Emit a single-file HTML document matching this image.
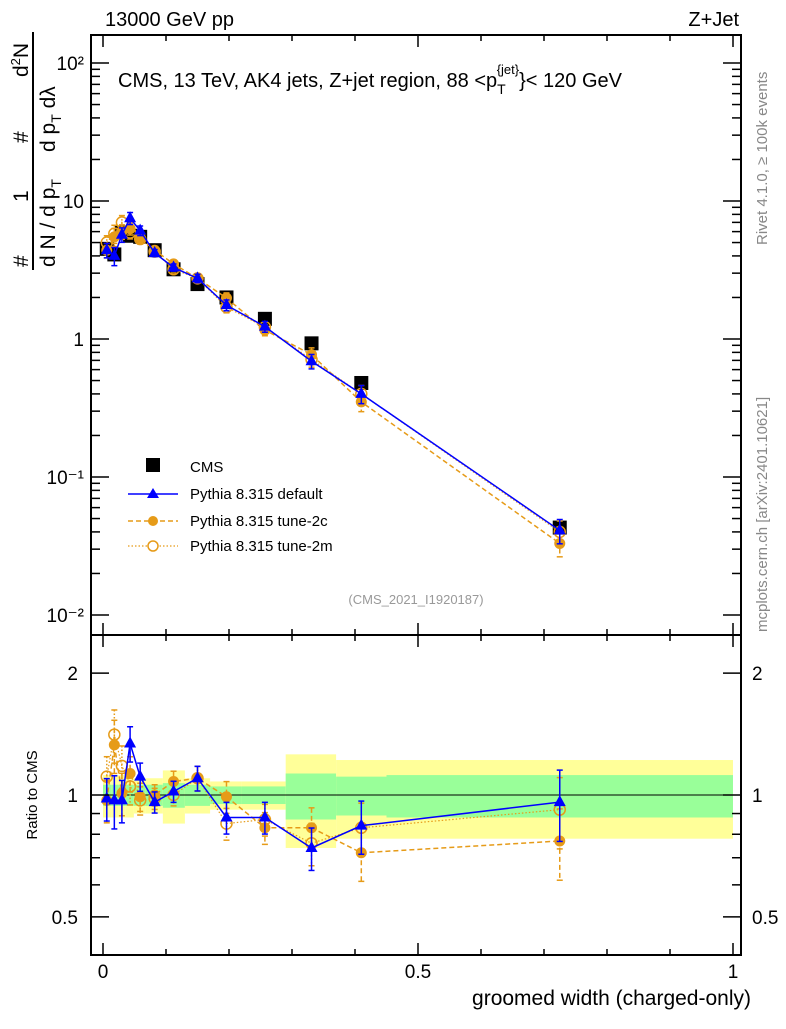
<!DOCTYPE html>
<html><head><meta charset="utf-8"><style>
body{margin:0;background:#fff;}
svg text{font-family:"Liberation Sans",sans-serif;}
</style></head><body>
<svg id="c" width="786" height="1024" xmlns="http://www.w3.org/2000/svg">
<g id="bands"></g>
<g id="marks"></g>
<g id="axes"></g>
<text x="105" y="26" font-size="20">13000 GeV pp</text>
<text x="739" y="26" font-size="20" text-anchor="end">Z+Jet</text>
<text x="118" y="87" font-size="20">CMS, 13 TeV, AK4 jets, Z+jet region, 88 &lt;p<tspan font-size="14" dy="7">T</tspan><tspan font-size="13" dy="-20" dx="-9">{jet}</tspan><tspan dy="13">}&lt; 120 GeV</tspan></text>
<text x="416" y="604" font-size="13" fill="#999" text-anchor="middle">(CMS_2021_I1920187)</text>
<text transform="translate(767,245) rotate(-90)" font-size="15" fill="#888">Rivet 4.1.0, ≥ 100k events</text>
<text transform="translate(767,632) rotate(-90)" font-size="15" fill="#888">mcplots.cern.ch [arXiv:2401.10621]</text>
<g transform="translate(0,270) rotate(-90)">
 <text x="3" y="28" font-size="21">#</text>
 <text x="68" y="28" font-size="21">1</text>
 <text x="127" y="28" font-size="21">#</text>
 <text x="193" y="28" font-size="21">d<tspan font-size="13" dy="-8">2</tspan><tspan dy="8">N</tspan></text>
 <line x1="0" y1="33" x2="238" y2="33" stroke="#000" stroke-width="2"/>
 <text x="3" y="55" font-size="21">d N / d p<tspan font-size="14" dy="6">T</tspan></text>
 <text x="118" y="55" font-size="21">d p<tspan font-size="14" dy="6">T</tspan><tspan dy="-6"> dλ</tspan></text>
</g>
<text transform="translate(37,795) rotate(-90)" font-size="15" text-anchor="middle">Ratio to CMS</text>
<text x="751" y="1005" font-size="21" text-anchor="end">groomed width (charged-only)</text>
<g id="legend">
 <rect x="146" y="458" width="14" height="14" fill="#000"/>
 <text x="190" y="472" font-size="15">CMS</text>
 <line x1="128" y1="494" x2="178" y2="494" stroke="#00f" stroke-width="1.5"/>
 <polygon points="153,488 147,498 159,498" fill="#00f"/>
 <text x="190" y="499" font-size="15">Pythia 8.315 default</text>
 <line x1="128" y1="521" x2="178" y2="521" stroke="#e69b18" stroke-width="1.5" stroke-dasharray="5,3"/>
 <circle cx="153" cy="521" r="5" fill="#e69b18"/>
 <text x="190" y="526" font-size="15">Pythia 8.315 tune-2c</text>
 <line x1="128" y1="546" x2="178" y2="546" stroke="#e69b18" stroke-width="1.2" stroke-dasharray="1.5,2"/>
 <circle cx="153" cy="546" r="5" fill="#fff" stroke="#e69b18" stroke-width="1.5"/>
 <text x="190" y="551" font-size="15">Pythia 8.315 tune-2m</text>
</g>
</svg>
<script>
const binEdges=[0,0.013,0.024,0.036,0.049,0.068,0.095,0.13,0.17,0.22,0.29,0.37,0.45,1.0];
const xCenters=[0.006,0.018,0.030,0.043,0.059,0.082,0.112,0.15,0.196,0.257,0.331,0.41,0.725];
const cmsVals=[4.5,4.1,5.9,5.6,5.5,4.4,3.2,2.5,2.0,1.4,0.93,0.48,0.043];
const defVals=[4.4,4.0,5.7,7.5,6.1,4.2,3.3,2.75,1.76,1.23,0.69,0.40,0.041];
const c2Vals=[4.4,5.5,6.0,6.3,5.4,4.4,3.5,2.75,1.98,1.16,0.77,0.35,0.033];
const m2Vals=[5.0,5.8,7.0,5.9,5.3,4.3,3.2,2.75,1.7,1.22,0.71,0.40,0.040];
const defRatio=[0.98,0.97,0.97,1.34,1.11,0.96,1.02,1.10,0.88,0.88,0.74,0.84,0.96];
const c2Ratio=[0.97,1.33,1.01,1.13,0.99,1.0,1.08,1.10,0.99,0.83,0.83,0.72,0.77];
const m2Ratio=[1.11,1.41,1.18,1.05,0.97,0.98,1.0,1.10,0.85,0.87,0.76,0.83,0.92];
const relErr=[0.12,0.15,0.12,0.1,0.08,0.06,0.06,0.07,0.09,0.09,0.12,0.15,0.2];
const statBand=[0.06,0.06,0.06,0.06,0.06,0.06,0.07,0.06,0.05,0.05,0.13,0.11,0.12];
const totBand=[0.12,0.12,0.12,0.12,0.10,0.10,0.15,0.10,0.08,0.08,0.26,0.22,0.22];
const xTicks=[0,0.5,1];
const xTickLabels=["0","0.5","1"];
const yDecades=[-2,-1,0,1,2];
const yDecadeLabels=["10⁻²","10⁻¹","1","10","10²"];
const rTicks=[0.5,1,2];
const rTickLabels=["0.5","1","2"];

const NS="http://www.w3.org/2000/svg";
const L=91,R=741,T=35,MB=635,RB=955;
const X=v=>103+v*630;
const Y=v=>339-Math.log10(v)*138;
const YR=v=>795-Math.log10(v)*405;
function el(p,t,a){const e=document.createElementNS(NS,t);for(const k in a)e.setAttribute(k,a[k]);p.appendChild(e);return e;}
const bands=document.getElementById('bands'),marks=document.getElementById('marks'),axes=document.getElementById('axes');
for(let i=0;i<xCenters.length;i++){
 const x1=X(binEdges[i]),x2=X(binEdges[i+1]);
 let r=el(bands,'rect',{x:x1,y:YR(1+totBand[i]),width:x2-x1,height:YR(1-totBand[i])-YR(1+totBand[i]),fill:'#ffff99'});
 
 
 r=el(bands,'rect',{x:x1,y:YR(1+statBand[i]),width:x2-x1,height:YR(1-statBand[i])-YR(1+statBand[i]),fill:'#99ff99'});
 
 
}
el(bands,'line',{x1:L,x2:R,y1:YR(1),y2:YR(1),stroke:'#000','stroke-width':1});
function series(vals,ratio,color,dash,kind,name){
 const g=el(marks,'g',{});
 
 
 [[vals,Y],[ratio,YR]].forEach(([arr,f])=>{
  el(g,'polyline',{points:arr.map((v,i)=>X(xCenters[i])+','+f(v)).join(' '),fill:'none',stroke:color,'stroke-width':kind=='m'?1.2:1.5,'stroke-dasharray':dash});
  arr.forEach((v,i)=>{const x=X(xCenters[i]),e=relErr[i];
   el(g,'line',{x1:x,x2:x,y1:f(v*(1+e)),y2:f(v*(1-e)),stroke:color,'stroke-width':1.5,'stroke-dasharray':dash});
   el(g,'line',{x1:x-3,x2:x+3,y1:f(v*(1+e)),y2:f(v*(1+e)),stroke:color,'stroke-width':1.5});
   el(g,'line',{x1:x-3,x2:x+3,y1:f(v*(1-e)),y2:f(v*(1-e)),stroke:color,'stroke-width':1.5});
   const y=f(v);let m;
   if(kind=='t')m=el(g,'polygon',{points:`${x},${y-7} ${x-6},${y+4} ${x+6},${y+4}`,fill:color});
   else if(kind=='c')m=el(g,'circle',{cx:x,cy:y,r:5.5,fill:color});
   else m=el(g,'circle',{cx:x,cy:y,r:5.5,fill:'none',stroke:color,'stroke-width':1.5});
   
   
  });
 });
}
cmsVals.forEach((v,i)=>{const r=el(marks,'rect',{x:X(xCenters[i])-7,y:Y(v)-7,width:14,height:14,fill:'#000'});
 
 });
series(m2Vals,m2Ratio,'#e69b18','1.5,2','m','tune-2m');
series(c2Vals,c2Ratio,'#e69b18','5,3','c','tune-2c');
series(defVals,defRatio,'#0000ff','','t','default');
el(axes,'rect',{x:L,y:T,width:R-L,height:MB-T,fill:'none',stroke:'#000','stroke-width':2});
el(axes,'rect',{x:L,y:MB,width:R-L,height:RB-MB,fill:'none',stroke:'#000','stroke-width':2});
for(let v=0;v<=1.0001;v+=0.1){const x=X(v),big=Math.abs(v*2-Math.round(v*2))<1e-6,len=big?12:6;
 [[T,1],[MB,-1],[MB,1],[RB,-1]].forEach(([y,d])=>el(axes,'line',{x1:x,x2:x,y1:y,y2:y+d*len,stroke:'#000','stroke-width':1.5}));}
xTicks.forEach((v,i)=>{const t=el(axes,'text',{x:X(v),y:978,'font-size':19,'text-anchor':'middle'});t.textContent=xTickLabels[i];
 
 });
yDecades.forEach((d,i)=>{
 for(let k=1;k<10;k++){const y=Y(k*Math.pow(10,d));if(y<T||y>MB)continue;const len=k==1?18:9;
  el(axes,'line',{x1:L,x2:L+len,y1:y,y2:y,stroke:'#000','stroke-width':1.5});
  el(axes,'line',{x1:R,x2:R-len,y1:y,y2:y,stroke:'#000','stroke-width':1.5});}
 const t=el(axes,'text',{x:84,y:Y(Math.pow(10,d))+7,'font-size':19,'text-anchor':'end'});t.textContent=yDecadeLabels[i];
 
 
});
[0.5,0.6,0.7,0.8,0.9,1,2].forEach(v=>{const y=YR(v),len=(v==0.5||v==1||v==2)?18:9;
 el(axes,'line',{x1:L,x2:L+len,y1:y,y2:y,stroke:'#000','stroke-width':1.5});
 el(axes,'line',{x1:R,x2:R-len,y1:y,y2:y,stroke:'#000','stroke-width':1.5});});
rTicks.forEach((v,i)=>{
 const t=el(axes,'text',{x:78,y:YR(v)+7,'font-size':19,'text-anchor':'end'});t.textContent=rTickLabels[i];
 
 
 const t2=el(axes,'text',{x:752,y:YR(v)+7,'font-size':19});t2.textContent=rTickLabels[i];
 
 
});
</script>
</body></html>
